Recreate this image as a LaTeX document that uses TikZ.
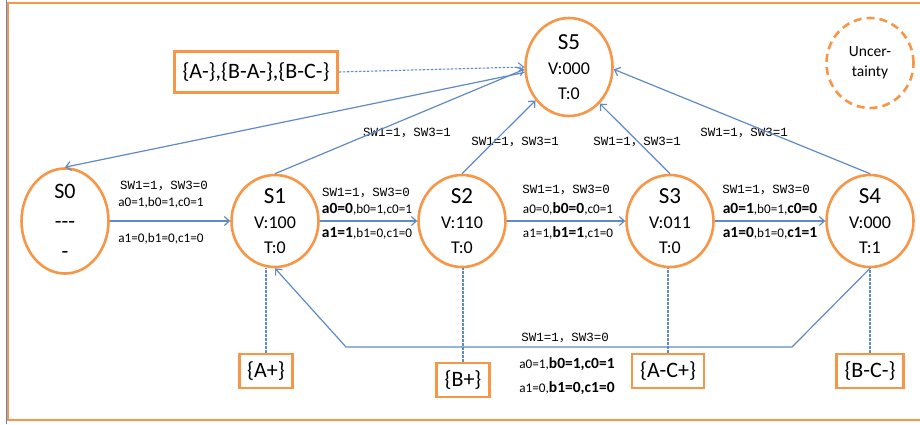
\documentclass[tikz,border=0pt]{standalone}
\usepackage{fontspec}
\setmainfont{Carlito}
\newfontfamily\monofont{Liberation Mono}
\newfontfamily\cjk{Noto Sans CJK SC}
\usetikzlibrary{arrows.meta,shapes.geometric}
\definecolor{boxorange}{RGB}{247,150,70}
\definecolor{lineblue}{RGB}{95,138,198}
\tikzstyle{state}=[ellipse,draw=boxorange,line width=2.6pt,minimum width=87pt,minimum height=92pt,inner sep=0pt,align=center,font=\fontsize{18}{25}\selectfont]
\tikzstyle{setbox}=[rectangle,draw=boxorange,line width=2.6pt,inner xsep=8pt,inner ysep=0pt,minimum height=34pt,font=\fontsize{22}{24}\selectfont]
\tikzstyle{cond}=[inner sep=0pt,font=\fontsize{13.2}{15}\selectfont]
\tikzstyle{swlab}=[inner sep=0pt,font=\monofont\fontsize{12.5}{14}\selectfont]
\tikzstyle{arr}=[draw=lineblue,line width=1.2pt,-{Straight Barb[length=5pt,width=9pt]}]
\tikzstyle{dots}=[draw=lineblue,line width=1.1pt,dash pattern=on 2.5pt off 1.5pt]
\newcommand{\state}{\node[state]}
\newcommand{\setnode}{\node[setbox]}
\newcommand{\hi}[1]{{\fontsize{15.5}{17}\selectfont\bfseries #1}}
\newcommand{\sw}[1]{SW1=1{\cjk ，}SW3=#1}

\begin{document}
\begin{tikzpicture}[x=1pt,y=-1pt]
			\useasboundingbox (0,0) rectangle (920,424);
			% % % % % % % % % % % % % % % % % % % % % % % % % % % % % 
			\draw[lineblue,line width=1pt] (6,0) -- (6,424);
			\draw[boxorange,line width=2.5pt] (930,3) -- (8,3) -- (8,420) -- (930,420);
			% % % % % % % % % % % % % % % % % % % % % % % % % % % % % 
			\state [font=\fontsize{22}{30}\selectfont] (s0) at (65,221) {S0\\-{}-{}-\\-};
			\state (s1) at (275,221) {{\fontsize{23}{26}\selectfont S1}\\V:100\\T:0};
			\state (s2) at (462,221) {{\fontsize{23}{26}\selectfont S2}\\V:110\\T:0};
			\state (s3) at (670,221) {{\fontsize{23}{26}\selectfont S3}\\V:011\\T:0};
			\state (s4) at (870,221) {{\fontsize{23}{26}\selectfont S4}\\V:000\\T:1};
			\state [minimum height=98pt] (s5) at (569,67) {{\fontsize{23}{26}\selectfont S5}\\V:000\\T:0};
			\state [dash pattern=on 8pt off 5pt,minimum height=90pt,font=\fontsize{15.5}{20}\selectfont] (unc) at (870,63) {Uncer-\\tainty};
			%*********************
			\setnode [minimum height=41pt] (fault) at (256,72) {\{A-\},\{B-A-\},\{B-C-\}};
			\setnode (aplus) at (266,371) {\{A+\}};
			\setnode (bplus) at (463,380) {\{B+\}};
			\setnode (acplus) at (668,371) {\{A-C+\}};
			\setnode (bcminus) at (870,371) {\{B-C-\}};
			%*********************
			\node[swlab] (w01) at (164,186) {\sw{0}};
			\node[cond] (p01) at (161,203) {a0=1,b0=1,c0=1};
			\node[cond] (q01) at (161,239) {a1=0,b1=0,c1=0};
			\node[swlab] (w12) at (366,193) {\sw{0}};
			\node[cond] (p12) at (367,209) {\hi{a0=0},b0=1,c0=1};
			\node[cond] (q12) at (367,233) {\hi{a1=1},b1=0,c1=0};
			\node[swlab] (w23) at (566,190) {\sw{0}};
			\node[cond] (p23) at (568,209) {a0=0,\hi{b0=0},c0=1};
			\node[cond] (q23) at (568,233) {a1=1,\hi{b1=1},c1=0};
			\node[swlab] (w34) at (766,190) {\sw{0}};
			\node[cond] (p34) at (770,209) {\hi{a0=1},b0=1,\hi{c0=0}};
			\node[cond] (q34) at (770,233) {\hi{a1=0},b1=0,\hi{c1=1}};
			\node[swlab] (w41) at (565,338) {\sw{0}};
			\node[cond] (p41) at (567,364) {a0=1,\hi{b0=1,c0=1}};
			\node[cond] (q41) at (567,388) {a1=0,\hi{b1=0,c1=0}};
			%*********************
			\node[swlab] (w15) at (407,133) {\sw{1}};
			\node[swlab] (w25) at (515,142) {\sw{1}};
			\node[swlab] (w35) at (637,142) {\sw{1}};
			\node[swlab] (w45) at (744,133) {\sw{1}};
			% % % % % % % % % % % % % % % % %
			\coordinate (k1) at (792,347);
			\coordinate (k2) at (346,347);
			\path
			(s0) edge [arr] (s1)
			(s1) edge [arr] (s2)
			(s2) edge [arr] (s3)
			(s3) edge [arr] (s4)
			(s1.north) edge [arr] (s5.183)
			(s2.north) edge [arr] (s5.225)
			(s3.north) edge [arr] (s5.-50)
			(s4.north) edge [arr] (s5.-3)
			(s5.187) edge [arr] (s0.north)
			%**************
			(fault.east) edge [dots,-{Straight Barb[length=5pt,width=9pt]}] (s5.180)
			(aplus.north) edge [dots] (aplus.north |- s1.south)
			(bplus.north) edge [dots] (bplus.north |- s2.south)
			(acplus.north) edge [dots] (acplus.north |- s3.south)
			(bcminus.north) edge [dots] (s4.south)
			;
			\draw[arr] (s4.south) -- (k1) -- (k2) -- (s1.south);
\end{tikzpicture}
\end{document}
